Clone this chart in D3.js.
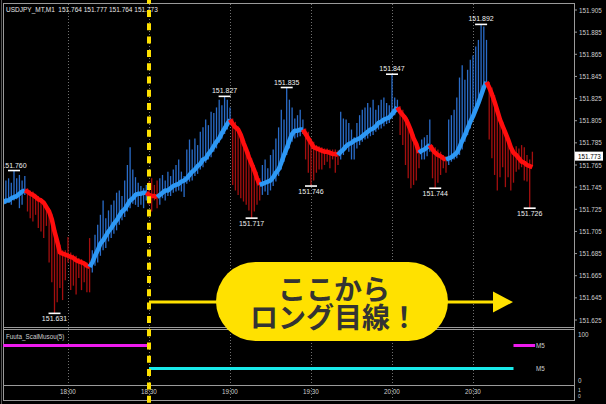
<!DOCTYPE html>
<html><head><meta charset="utf-8">
<script src="https://cdn.jsdelivr.net/npm/d3@7"></script>
<style>html,body{margin:0;padding:0;background:#000;overflow:hidden}svg{display:block}</style>
</head><body>
<svg id="c" width="606" height="404"></svg>
<script>
// ---------------- DATA ----------------
const symbol = "USDJPY_MT,M1";
const lastOHLC = [151.764, 151.777, 151.764, 151.773];
const startTime = "17:36";   // first M1 bar; one bar per minute
const highs = [
151.746,151.751,151.753,151.749,151.760,151.753,151.756,151.751,151.755,151.744,
151.742,151.741,151.739,151.737,151.735,151.733,151.730,151.726,151.721,151.708,
151.699,151.693,151.688,151.688,151.700,151.686,151.684,151.683,151.681,151.680,
151.678,151.677,151.699,151.688,151.702,151.711,151.720,151.733,151.717,151.724,
151.729,151.733,151.740,151.742,151.737,151.751,151.765,151.781,151.761,151.754,
151.749,151.746,151.744,151.747,151.750,151.753,151.747,151.751,151.753,151.756,
151.751,151.759,151.755,151.761,151.765,151.770,151.759,151.755,151.779,151.788,
151.779,151.789,151.783,151.795,151.799,151.806,151.801,151.813,151.812,151.817,
151.824,151.819,151.827,151.824,151.817,151.807,151.804,151.800,151.795,151.789,
151.782,151.777,151.771,151.765,151.759,151.753,151.765,151.770,151.762,151.774,
151.779,151.789,151.799,151.815,151.806,151.835,151.824,151.817,151.807,151.810,
151.815,151.806,151.798,151.795,151.789,151.786,151.783,151.782,151.781,151.780,
151.780,151.779,151.779,151.779,151.778,151.813,151.807,151.806,151.803,151.797,
151.790,151.803,151.810,151.815,151.817,151.821,151.817,151.824,151.815,151.819,
151.824,151.826,151.821,151.819,151.847,151.826,151.824,151.818,151.815,151.810,
151.806,151.799,151.793,151.786,151.781,151.788,151.790,151.792,151.806,151.783,
151.781,151.779,151.777,151.774,151.773,151.806,151.810,151.815,151.826,151.844,
151.855,151.842,151.851,151.860,151.864,151.872,151.878,151.892,151.890,151.878,
151.840,151.835,151.828,151.819,151.810,151.804,151.797,151.791,151.783,151.779,
151.782,151.780,151.783,151.781,151.774,151.770,151.777];
const lows = [
151.727,151.730,151.732,151.729,151.733,151.734,151.726,151.729,151.738,151.723,
151.717,151.714,151.720,151.708,151.705,151.699,151.710,151.677,151.659,151.631,
151.641,151.654,151.643,151.661,151.677,151.652,151.656,151.648,151.663,151.652,
151.659,151.650,151.650,151.668,151.674,151.677,151.683,151.688,151.690,151.696,
151.699,151.703,151.706,151.711,151.715,151.718,151.723,151.726,151.730,151.729,
151.727,151.729,151.726,151.733,151.729,151.723,151.733,151.726,151.729,151.735,
151.733,151.737,151.737,151.740,151.741,151.742,151.741,151.736,151.748,151.750,
151.751,151.755,151.757,151.761,151.763,151.767,151.770,151.772,151.777,151.780,
151.785,151.789,151.793,151.797,151.802,151.747,151.742,151.738,151.735,151.732,
151.729,151.724,151.717,151.723,151.729,151.733,151.738,151.741,151.738,151.742,
151.746,151.750,151.755,151.761,151.768,151.774,151.780,151.786,151.789,151.790,
151.791,151.793,151.770,151.758,151.746,151.751,151.758,151.761,151.761,151.765,
151.768,151.762,151.770,151.758,151.765,151.770,151.774,151.779,151.777,151.770,
151.770,151.780,151.783,151.786,151.788,151.789,151.791,151.792,151.795,151.797,
151.798,151.800,151.802,151.803,151.807,151.810,151.813,151.792,151.783,151.765,
151.753,151.744,151.747,151.751,151.762,151.770,151.770,151.773,151.777,151.753,
151.744,151.749,151.756,151.762,151.758,151.765,151.768,151.770,151.771,151.774,
151.779,151.786,151.792,151.798,151.806,151.813,151.819,151.826,151.833,151.838,
151.788,151.771,151.756,151.742,151.754,151.763,151.745,151.754,151.742,151.749,
151.759,151.761,151.763,151.751,151.750,151.726,151.764];
const maValues = [
151.731,151.733,151.733,151.735,151.736,151.737,151.739,151.741,151.742,151.741,
151.739,151.738,151.736,151.734,151.733,151.731,151.727,151.723,151.716,151.705,
151.696,151.686,151.685,151.684,151.683,151.682,151.681,151.679,151.678,151.677,
151.676,151.674,151.673,151.677,151.683,151.688,151.694,151.697,151.701,151.705,
151.708,151.712,151.715,151.719,151.723,151.725,151.729,151.733,151.735,151.738,
151.739,151.739,151.740,151.740,151.738,151.737,151.737,151.736,151.738,151.740,
151.742,151.742,151.744,151.746,151.747,151.748,151.750,151.751,151.753,151.756,
151.759,151.761,151.764,151.766,151.770,151.771,151.775,151.778,151.782,151.786,
151.789,151.794,151.798,151.802,151.806,151.802,151.799,151.797,151.792,151.785,
151.779,151.772,151.766,151.760,151.753,151.747,151.748,151.749,151.750,151.751,
151.754,151.758,151.761,151.767,151.774,151.780,151.787,151.793,151.796,151.796,
151.797,151.797,151.793,151.789,151.785,151.781,151.780,151.779,151.778,151.777,
151.777,151.776,151.775,151.775,151.774,151.777,151.779,151.782,151.784,151.785,
151.787,151.788,151.789,151.791,151.793,151.795,151.797,151.798,151.800,151.803,
151.804,151.806,151.807,151.808,151.811,151.814,151.817,151.813,151.810,151.807,
151.802,151.796,151.789,151.784,151.776,151.778,151.779,151.781,151.783,151.779,
151.776,151.774,151.773,151.771,151.770,151.771,151.772,151.774,151.776,151.781,
151.787,151.792,151.798,151.804,151.809,151.815,151.821,151.828,151.835,151.840,
151.835,151.829,151.822,151.814,151.806,151.800,151.794,151.788,151.781,151.776,
151.774,151.771,151.768,151.767,151.765,151.764,151.763];
const swingHighIdx = [4, 82, 105, 144, 177];
const swingLowIdx = [19, 92, 114, 160, 195];
const priceTicks = [151.905,151.885,151.865,151.845,151.825,151.805,151.785,151.765,151.745,151.725,151.705,151.685,151.665,151.645,151.625];
const timeTicks = ["18:00","18:30","19:00","19:30","20:00","20:30"];
const indicatorName = "Fuuta_ScalMusou(5)";
const m5SegStart = ["17:36","18:30","20:45"];
const m5SegEnd   = ["18:30","20:45","20:53"];
const m5SegValue = [75, 25, 75];
const entryTime = "18:30";
const calloutLines = ["ここから", "ロング目線！"];

// ---------------- SETUP ----------------
const svg = d3.select("#c");
svg.append("rect").attr("width",606).attr("height",404).attr("fill","#000");
const parseT = d3.timeParse("%H:%M");
const t0 = parseT(startTime);
const times = highs.map((_, i) => d3.timeMinute.offset(t0, i));
const x = d3.scaleTime().domain([times[0], times[times.length - 1]]).range([3.2, 532.4]);
const y = d3.scaleLinear().domain([151.625, 151.905]).range([320, 10]);
const yi = d3.scaleLinear().domain([0, 100]).range([380, 334]);

const frame = "#9a9a9a", txt = "#cfcfcf";
const F = "'Liberation Sans', Arial, sans-serif";

// grid (dotted verticals)
const gridG = svg.append("g");
timeTicks.forEach(s => {
  const gx = Math.round(x(parseT(s))) + 0.5;
  gridG.append("line").attr("x1", gx).attr("x2", gx).attr("y1", 4).attr("y2", 400)
    .attr("stroke", "#707070").attr("stroke-width", 1).attr("stroke-dasharray", "1,2");
});

// clip for main panel
svg.append("clipPath").attr("id", "mainClip").append("rect")
  .attr("x", 4).attr("y", 4).attr("width", 570).attr("height", 323);
const main = svg.append("g").attr("clip-path", "url(#mainClip)");

// trend direction from MA slope
let cur = 1;
const up = maValues.map((v, i) => {
  if (i > 0) { const d = v - maValues[i - 1]; if (d > 1e-9) cur = 1; else if (d < -1e-9) cur = -1; }
  return cur > 0;
});

// bars
main.append("g").selectAll("line").data(highs).join("line")
  .attr("x1", (d, i) => x(times[i])).attr("x2", (d, i) => x(times[i]))
  .attr("y1", (d, i) => y(highs[i])).attr("y2", (d, i) => y(lows[i]))
  .attr("stroke", (d, i) => up[i] ? "#2a6cc8" : "#a50f0f")
  .attr("stroke-width", 1.3);

// MA runs
const runs = [];
for (let i = 1; i < maValues.length; i++) {
  const c = up[i];
  if (runs.length && runs[runs.length - 1].up === c) runs[runs.length - 1].idx.push(i);
  else runs.push({ up: c, idx: [i - 1, i] });
}
const line = d3.line().x(i => x(times[i])).y(i => y(maValues[i]));
main.append("g").selectAll("path").data(runs).join("path")
  .attr("d", r => line(r.idx)).attr("fill", "none")
  .attr("stroke", r => r.up ? "#2d98f5" : "#ff0d0d")
  .attr("stroke-width", 4.5).attr("stroke-linejoin", "round").attr("stroke-linecap", "butt");

// swing labels
const lab = main.append("g").attr("font-family", F).attr("font-size", 7).attr("fill", "#f0f0f0").attr("text-anchor", "middle");
swingHighIdx.forEach(i => {
  const bx = x(times[i]), by = y(highs[i]);
  lab.append("line").attr("x1", bx - 6).attr("x2", bx + 6).attr("y1", by).attr("y2", by)
    .attr("stroke", "#fff").attr("stroke-width", 1.6);
  lab.append("text").attr("x", bx).attr("y", by - 3).text(highs[i].toFixed(3));
});
swingLowIdx.forEach(i => {
  const bx = x(times[i]), by = y(lows[i]);
  lab.append("line").attr("x1", bx - 6).attr("x2", bx + 6).attr("y1", by).attr("y2", by)
    .attr("stroke", "#fff").attr("stroke-width", 1.6);
  lab.append("text").attr("x", bx).attr("y", by + 8).text(lows[i].toFixed(3));
});

// title
svg.append("text").attr("x", 6).attr("y", 11.5).attr("font-family", F).attr("font-size", 6.5)
  .attr("fill", "#e8e8e8").style("white-space", "pre")
  .text(symbol + "  " + lastOHLC.map(v => v.toFixed(3)).join(" "));

// frames
const fr = svg.append("g").attr("fill", "none").attr("stroke", frame).attr("stroke-width", 1);
fr.append("rect").attr("x", 3.5).attr("y", 3.5).attr("width", 571).attr("height", 324);
fr.append("rect").attr("x", 3.5).attr("y", 329.5).attr("width", 571).attr("height", 56);
fr.append("line").attr("x1", 3.5).attr("x2", 3.5).attr("y1", 3).attr("y2", 401);
fr.append("line").attr("x1", 574.5).attr("x2", 574.5).attr("y1", 3).attr("y2", 401);
fr.append("line").attr("x1", 3).attr("x2", 575).attr("y1", 400.5).attr("y2", 400.5);
fr.append("line").attr("x1", 1.5).attr("x2", 1.5).attr("y1", 0).attr("y2", 404).attr("stroke", "#555");

// price axis
const ax = svg.append("g").attr("font-family", F).attr("font-size", 6.3).attr("fill", txt);
priceTicks.forEach(p => {
  const py = y(p);
  ax.append("line").attr("x1", 574).attr("x2", 577).attr("y1", py).attr("y2", py).attr("stroke", frame);
  ax.append("text").attr("x", 579).attr("y", py).attr("dominant-baseline", "central").text(p.toFixed(3));
});
// current price box
const cp = lastOHLC[3];
ax.append("rect").attr("x", 575).attr("y", y(cp) - 4.5).attr("width", 28).attr("height", 9).attr("fill", "#fff");
ax.append("text").attr("x", 578).attr("y", y(cp)).attr("dominant-baseline", "central").attr("fill", "#000").text(cp.toFixed(3));

// indicator axis
ax.append("text").attr("x", 578).attr("y", yi(100)).attr("dominant-baseline", "central").text("100");
ax.append("text").attr("x", 578).attr("y", yi(0)).attr("dominant-baseline", "central").text("0");
ax.append("text").attr("x", 578).attr("y", 390).attr("font-size", 5).attr("dominant-baseline", "central").text("1");
ax.append("text").attr("x", 578).attr("y", 396).attr("font-size", 5).attr("dominant-baseline", "central").text("0");

// time axis
const tx = svg.append("g").attr("font-family", F).attr("font-size", 6.3).attr("fill", txt).attr("text-anchor", "middle");
timeTicks.forEach(s => {
  tx.append("text").attr("x", x(parseT(s))).attr("y", 391).attr("dominant-baseline", "central").text(s);
});

// indicator panel
svg.append("text").attr("x", 6).attr("y", 336).attr("font-family", F).attr("font-size", 6.3)
  .attr("fill", txt).attr("dominant-baseline", "central").text(indicatorName);
const ig = svg.append("g");
m5SegValue.forEach((v, k) => {
  ig.append("line").attr("x1", x(parseT(m5SegStart[k]))).attr("x2", x(parseT(m5SegEnd[k])))
    .attr("y1", yi(v)).attr("y2", yi(v))
    .attr("stroke", v > 50 ? "#ee1bee" : "#19eaea").attr("stroke-width", 3);
});
const lastEnd = x(parseT(m5SegEnd[m5SegEnd.length - 1]));
[75, 25].forEach(v => {
  ig.append("text").attr("x", lastEnd + 1).attr("y", yi(v)).attr("font-family", F).attr("font-size", 6.3)
    .attr("fill", txt).attr("dominant-baseline", "central").text("M5");
});

// annotation: dashed vertical
const ex = x(parseT(entryTime));
const yellow = "#ffe100";
svg.append("line").attr("x1", ex).attr("x2", ex).attr("y1", 0).attr("y2", 404)
  .attr("stroke", yellow).attr("stroke-width", 4).attr("stroke-dasharray", "7,6.3").attr("stroke-dashoffset", 3.3);
// arrow
svg.append("line").attr("x1", ex).attr("x2", 495).attr("y1", 302).attr("y2", 302)
  .attr("stroke", yellow).attr("stroke-width", 3);
svg.append("path").attr("d", "M493,291.5 L513,302 L493,312.5 Z").attr("fill", yellow);
// callout pill
svg.append("rect").attr("x", 216).attr("y", 262).attr("width", 232).attr("height", 79)
  .attr("rx", 39.5).attr("ry", 39.5).attr("fill", yellow);
svg.append("foreignObject").attr("x", 216).attr("y", 274).attr("width", 234).attr("height", 60)
  .append("xhtml:div")
  .style("font-family", "'Noto Sans CJK JP', sans-serif").style("font-weight", "700")
  .style("font-size", "28px").style("line-height", "28px").style("color", "#333")
  .style("text-align", "center").style("white-space", "pre-line").style("margin", "0").style("padding-left", "2px")
  .text(calloutLines.join("\n"));
</script>
</body></html>
